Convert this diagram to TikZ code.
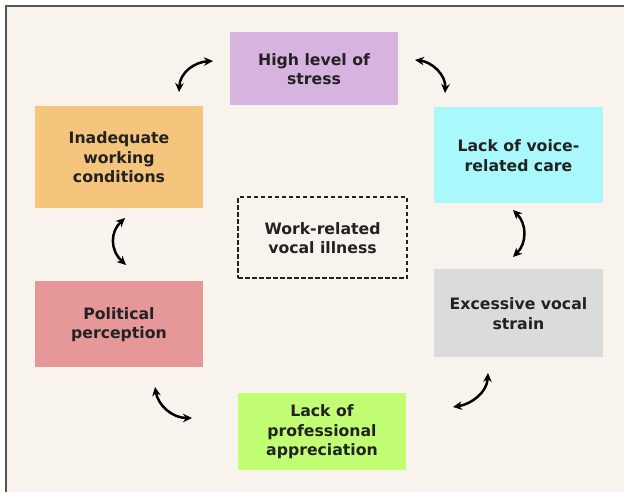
\documentclass[tikz,border=0pt]{standalone}
\usepackage{fontspec}
\setmainfont{DejaVu Sans}
\usetikzlibrary{arrows.meta}
\definecolor{pagebg}{HTML}{F8F3EC}
\definecolor{framegray}{HTML}{555555}
\definecolor{inkdark}{HTML}{222222}
\definecolor{cstress}{HTML}{D7B3E0}
\definecolor{ccare}{HTML}{A9F8FC}
\definecolor{cinad}{HTML}{F5C57D}
\definecolor{cpolit}{HTML}{E69898}
\definecolor{cstrain}{HTML}{DBDBDB}
\definecolor{cprof}{HTML}{C2FE73}
\begin{document}
\begin{tikzpicture}[x=1pt,y=-1pt,
  factor/.style={draw=none, minimum width=168pt, align=center, inner sep=0pt,
    text=inkdark, font=\fontsize{15.7}{19.5}\selectfont\bfseries},
  centerbox/.style={factor, draw=inkdark, fill=pagebg, line width=1.4pt,
    dash pattern=on 4.5pt off 2.5pt},
  loop/.style={line width=2.5pt, black, {Stealth[length=9pt,width=8.5pt]}-{Stealth[length=9pt,width=8.5pt]}}
]
% canvas and frame
\useasboundingbox (0,0) rectangle (624,492);
\fill[white] (0,0) rectangle (624,492);
\fill[pagebg] (6,6) rectangle (624,492);
\draw[framegray, line width=1.5pt] (6,492) -- (6,6) -- (624,6);

% factor boxes
\node[factor, fill=cstress, minimum height=73pt] (stress) at (314,68.5) {\rule{0pt}{13pt}High level of\\stress};
\node[factor, fill=ccare, minimum width=169pt, minimum height=96pt] (care) at (518.5,155) {\rule{0pt}{13pt}Lack of voice-\\related care};
\node[factor, fill=cinad, minimum height=102pt] (inad) at (119,157) {\rule{0pt}{13pt}Inadequate\\working\\conditions};
\node[centerbox, minimum width=169pt, minimum height=81pt] (work) at (322.5,237.5) {\rule{0pt}{13pt}Work-related\\vocal illness};
\node[factor, fill=cpolit, minimum height=86pt] (polit) at (119,324) {\rule{0pt}{13pt}Political\\perception};
\node[factor, fill=cstrain, minimum width=169pt, minimum height=88pt] (strain) at (518.5,313) {\rule{0pt}{13pt}Excessive vocal\\strain};
\node[factor, fill=cprof, minimum height=77pt] (prof) at (322,431.5) {\rule{0pt}{13pt}Lack of\\professional\\appreciation};

% ends of the two-way arrows between neighbouring boxes
\coordinate (a1) at (179,92);  \coordinate (a2) at (213,61);
\coordinate (b1) at (415,60);  \coordinate (b2) at (445,93);
\coordinate (c1) at (513,210); \coordinate (c2) at (513,257);
\coordinate (d1) at (488,373); \coordinate (d2) at (453,407);
\coordinate (e1) at (155,387); \coordinate (e2) at (192,418);
\coordinate (f1) at (125,218); \coordinate (f2) at (126,265);

\draw[loop] (a1) .. controls (180,72) and (195,62) .. (a2);
\draw[loop] (b1) .. controls (432,62) and (446,75) .. (b2);
\draw[loop] (c1) .. controls (527,224) and (527,243) .. (c2);
\draw[loop] (d1) .. controls (487,392) and (472,404) .. (d2);
\draw[loop] (e1) .. controls (158,405) and (172,418) .. (e2);
\draw[loop] (f1) .. controls (110,232) and (110,250) .. (f2);
\end{tikzpicture}
\end{document}
